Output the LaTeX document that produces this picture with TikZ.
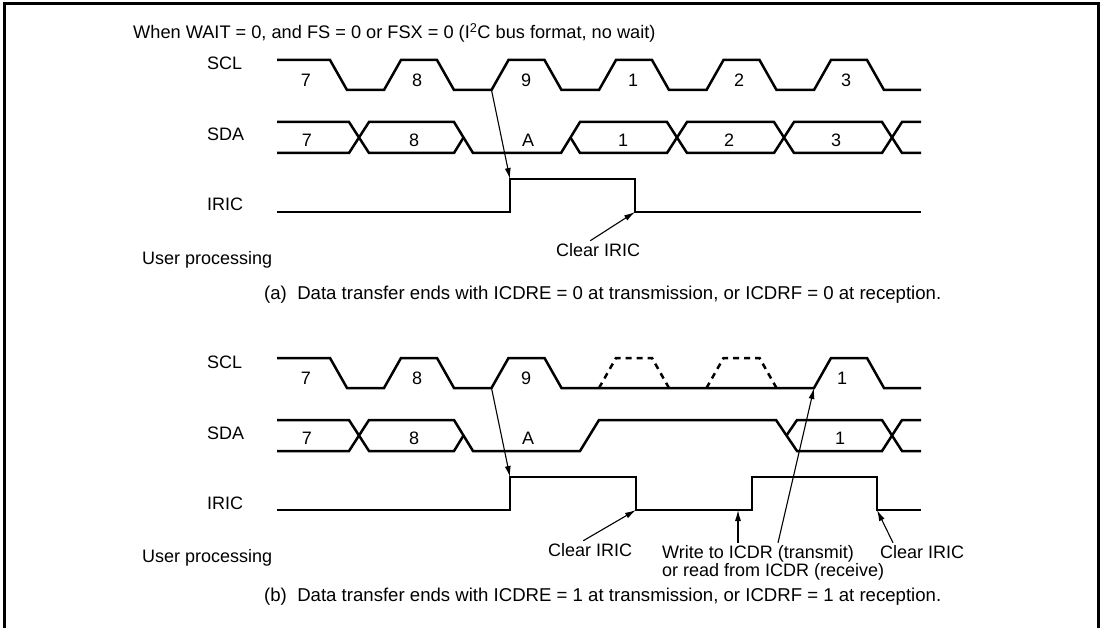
\documentclass[tikz,border=0pt]{standalone}
\usepackage{fontspec}
\setmainfont{Liberation Sans}
\usetikzlibrary{arrows.meta,calc}

\tikzset{
  wave/.style={line width=2.5pt},
  ghost/.style={line width=2.5pt,dash pattern=on 6pt off 5pt},
  pointer/.style={line width=1.1pt,-{Latex[length=11pt,width=6pt]}},
  txt/.style={anchor=base west},
  caption/.style={anchor=base west,font=\fontsize{18.6}{18.6}\selectfont},
}

\begin{document}
\begin{tikzpicture}[x=1pt,y=-1pt,every node/.style={font=\fontsize{18}{18}\selectfont,inner sep=2pt}]
  \useasboundingbox (0,0) rectangle (1102,628);
  % frame, open at the bottom
  \draw[line width=3pt] (4,628) -- (4,3.5) -- (1098.5,3.5) -- (1098.5,628);
  \node[txt,font=\fontsize{18.2}{18.2}\selectfont] (title) at (131,39) {When WAIT = 0, and FS = 0 or FSX = 0 (I\textsuperscript{2}C bus format, no wait)};

  % (a) no wait
  \node[txt] (sclA) at (205,70) {SCL};
  \node[txt] (sdaA) at (205,141) {SDA};
  \node[txt] (iricA) at (205,211) {IRIC};
  \node[txt] (userA) at (140,264) {User processing};
  \draw[wave] (277,60) -- (330,60) -- (347,90)
    \foreach \s in {384,491.5,599,706.5,814} { -- (\s,90) -- (\s+17,60) -- (\s+53,60) -- (\s+70,90) } -- (921,90);
  \draw[wave] (277,122) -- (349,122) -- (369,153) -- (454,153) -- (463.5,137.5);
  \draw[wave] (277,153) -- (349,153) -- (369,122) -- (454,122) -- (473,153) -- (561,153) -- (580,122)
    -- (667,122) -- (687,153) -- (774,153) -- (794,122) -- (882,122) -- (902,153) -- (921,153);
  \draw[wave] (570.5,137.5) -- (580,153) -- (667,153) -- (687,122) -- (774,122) -- (794,153)
    -- (882,153) -- (902,122) -- (921,122);
  \draw[wave] (277,212) -- (510,212) -- (510,179) -- (635,179) -- (635,212) -- (921,212);
  \foreach \x/\t in {306/7,417/8,526/9,633/1,739/2,846/3}
    \node (ca\t) at (\x,80) {\t};
  \foreach \x/\t in {307/7,414/8,528/A,623/1,729/2,836/3}
    \node (da\t) at (\x,140) {\t};
  \coordinate (a9) at (491.5,90);
  \coordinate (aRise) at (510,179);
  \coordinate (aFall) at (635,212);
  \draw[pointer] (a9) -- (aRise);
  \node[txt] (clrA) at (554,256) {Clear IRIC};
  \draw[pointer] ([xshift=-8pt]clrA.north) -- (aFall);
  \node[caption] (capA) at (262,299) {(a)\ \ Data transfer ends with ICDRE = 0 at transmission, or ICDRF = 0 at reception.};

  % (b) wait inserted
  \begin{scope}[yshift=-298pt]
    \node[txt] (sclB) at (205,70) {SCL};
    \node[txt] (sdaB) at (205,141) {SDA};
    \node[txt] (iricB) at (205,211) {IRIC};
    \node[txt] (userB) at (140,264) {User processing};
    \draw[wave] (277,60) -- (330,60) -- (347,90)
      \foreach \s in {384,491.5} { -- (\s,90) -- (\s+17,60) -- (\s+53,60) -- (\s+70,90) }
      -- (814,90) -- (831,60) -- (867,60) -- (884,90) -- (921,90);
    \foreach \s in {599,706.5}
      \draw[ghost] (\s,90) -- (\s+17,60) -- (\s+53,60) -- (\s+70,90);
    \draw[wave] (277,122) -- (349,122) -- (369,153) -- (454,153) -- (463.5,137.5);
    \draw[wave] (277,153) -- (349,153) -- (369,122) -- (454,122) -- (473,153) -- (580,153) -- (599,122)
      -- (776,122) -- (797,153) -- (882,153) -- (902,122) -- (921,122);
    \draw[wave] (786.5,137.5) -- (797,122) -- (882,122) -- (902,153) -- (921,153);
    \draw[wave] (277,212) -- (510,212) -- (510,179) -- (636,179) -- (636,212) -- (752,212)
      -- (752,179) -- (877,179) -- (877,212) -- (921,212);
    \foreach \x/\t in {306/7,417/8,526/9,842/1}
      \node (cb\t) at (\x,80) {\t};
    \foreach \x/\t in {307/7,414/8,528/A,840/1}
      \node (db\t) at (\x,140) {\t};
    \coordinate (b9) at (491.5,90);
    \coordinate (b1) at (814,90);
    \coordinate (bRise) at (510,179);
    \coordinate (bFall) at (636,212);
    \coordinate (bWr) at (738,212);
    \coordinate (bFall2) at (877,212);
    \draw[pointer] (b9) -- (bRise);
    \node[txt] (clrB) at (546,258) {Clear IRIC};
    \node[txt] (wrA) at (660,260) {Write to ICDR (transmit)};
    \node[txt] (wrB) at (660,278) {or read from ICDR (receive)};
    \node[txt] (clrC) at (878,260) {Clear IRIC};
    \draw[pointer] ([xshift=-7pt]clrB.north) -- (bFall);
    \draw[pointer] (bWr |- wrA.north) -- (bWr);
    \draw[pointer] ([xshift=118pt]wrA.north west) -- (b1);
    \draw[pointer] ([xshift=15pt]clrC.north west) -- (bFall2);
    \node[caption] (capB) at (262,303) {(b)\ \ Data transfer ends with ICDRE = 1 at transmission, or ICDRF = 1 at reception.};
  \end{scope}
\end{tikzpicture}
\end{document}
